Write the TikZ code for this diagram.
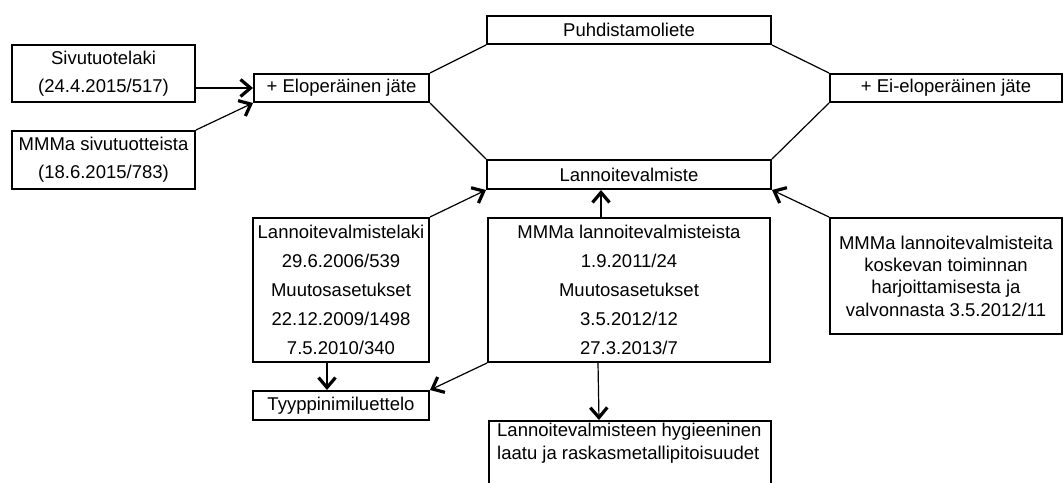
\documentclass[tikz,border=0pt]{standalone}
\usepackage{fontspec}
\setmainfont{Liberation Sans}
\usepackage{tikz}
\usetikzlibrary{arrows.meta}

\tikzset{
    docbox/.style = {rectangle, draw, line width=2pt, inner sep=0pt},
    lbl/.style = {font=\fontsize{18.5}{#1}\selectfont, align=center, inner sep=0pt},
    lbl/.default = 28,
    link/.style = {line width=1.2pt}
}

\begin{document}
\begin{tikzpicture}[->,>={Straight Barb[length=10pt,width=17pt,line width=3.2pt]},
                    x=1pt, y=-1pt]

    \useasboundingbox (0,0) rectangle (1064,482);
    \clip (0,0) rectangle (1064,482);

    % left side
    \node[docbox,
          minimum width = 183pt,
          minimum height = 57pt
          ] (sivu) at (103.5,73.5) {};
    \node[lbl] (sivutxt) at (sivu.center) {Sivutuotelaki\\(24.4.2015/517)};

    \node[docbox,
          minimum width = 183pt,
          minimum height = 58pt
          ] (mmmsivu) at (103.5,160) {};
    \node[lbl] (mmmsivutxt) at (mmmsivu.center) {MMMa sivutuotteista\\(18.6.2015/783)};

    \node[docbox,
          minimum width = 175pt,
          minimum height = 28pt
          ] (elo) at (341.5,88) {};
    \node[lbl] (elotxt) at (elo.center) {+ Eloperäinen jäte};


    % middle
    \node[docbox,
          minimum width = 284pt,
          minimum height = 28pt
          ] (puhd) at (629,30) {};
    \node[lbl] (puhdtxt) at (puhd.center) {Puhdistamoliete};

    \node[docbox,
          minimum width = 284pt,
          minimum height = 29pt
          ] (lann) at (629,174.5) {};
    \node[lbl] (lanntxt) at (lann.center) {Lannoitevalmiste};

    \node[docbox,
          minimum width = 232pt,
          minimum height = 28pt
          ] (eiel) at (946,88) {};
    \node[lbl] (eieltxt) at (eiel.center) {+ Ei-eloperäinen jäte};


    % lower row
    \node[docbox,
          minimum width = 176pt,
          minimum height = 144pt
          ] (laki) at (341,290) {};
    \node[lbl=29] (lakitxt) at (laki.center)
        {Lannoitevalmistelaki\\29.6.2006/539\\Muutosasetukset\\22.12.2009/1498\\7.5.2010/340};

    \node[docbox,
          minimum width = 282pt,
          minimum height = 144pt
          ] (mmmlann) at (629,290) {};
    \node[lbl=29] (mmmlanntxt) at (mmmlann.center)
        {MMMa lannoitevalmisteista\\1.9.2011/24\\Muutosasetukset\\3.5.2012/12\\27.3.2013/7};

    \node[docbox,
          minimum width = 232pt,
          minimum height = 116pt
          ] (mmmvalv) at (946,276) {};
    \node[lbl=22.3] (mmmvalvtxt) at (mmmvalv.center)
        {MMMa lannoitevalmisteita\\koskevan toiminnan\\harjoittamisesta ja\\valvonnasta 3.5.2012/11};

    \node[docbox,
          minimum width = 176pt,
          minimum height = 29pt
          ] (tyyppi) at (341,405.5) {};
    \node[lbl] (tyyppitxt) at (tyyppi.center) {Tyyppinimiluettelo};

    \node[docbox,
          anchor = north west,
          minimum width = 282pt,
          minimum height = 90pt
          ] (hyg) at (488,420) {};
    \node[lbl=23, align=left, anchor=north west] (hygtxt) at ([shift={(9,3)}]hyg.north west)
        {Lannoitevalmisteen hygieeninen\\laatu ja raskasmetallipitoisuudet};


    \path[link]
    % into the waste box
    (sivu.east |- elo.west) edge [] (elo.west)
    (mmmsivu.north east) edge [] (elo.south west)
    % the ring
    (elo.north east) edge [-] (puhd.south west)
    (elo.south east) edge [-] (lann.north west)
    (puhd.south east) edge [-] (eiel.north west)
    (eiel.south west) edge [-] (lann.north east)
    % into Lannoitevalmiste
    (laki.north east) edge [] (lann.south west)
    ([xshift=-28pt]mmmlann.north) edge [] ([xshift=-28pt]lann.south)
    (mmmvalv.north west) edge [] (lann.south east)
    % downwards
    ([xshift=-14pt]laki.south) edge [] ([xshift=-14pt]tyyppi.north)
    (mmmlann.south west) edge [] (tyyppi.north east)
    ([xshift=-31pt]mmmlann.south) edge [] ([xshift=-31pt]hyg.north) ;

\end{tikzpicture}
\end{document}
